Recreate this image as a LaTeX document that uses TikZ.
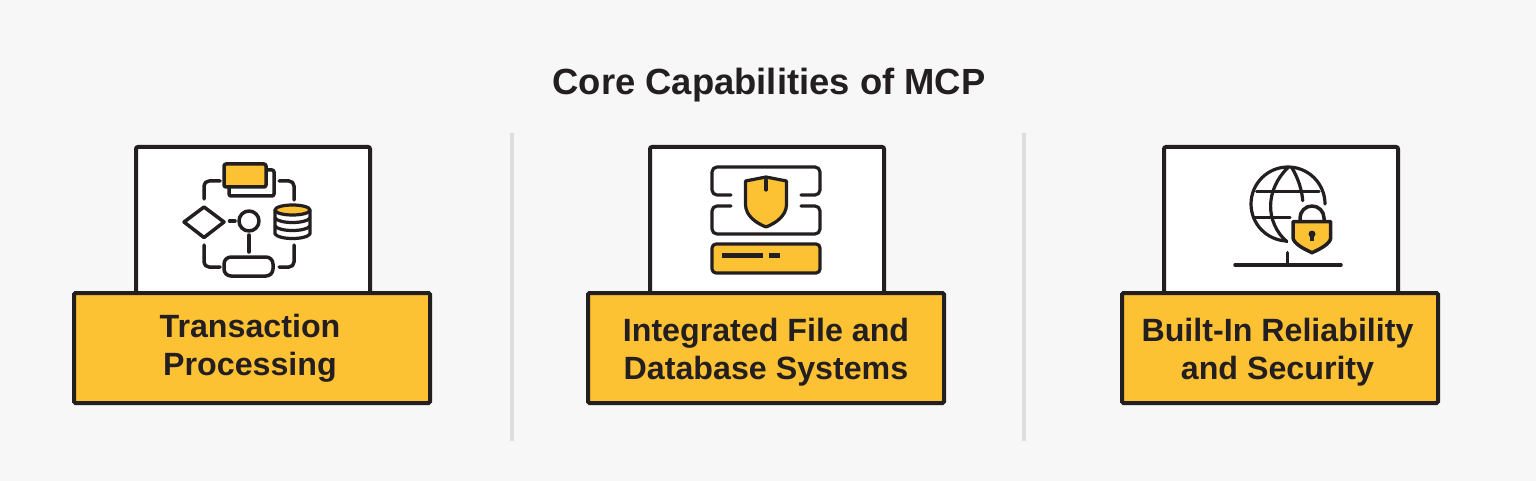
\documentclass[tikz,border=0pt]{standalone}
\usepackage{fontspec}
\setmainfont{Liberation Sans}
\definecolor{ink}{HTML}{231F20}
\definecolor{gold}{HTML}{FDC134}
\definecolor{paper}{HTML}{F7F7F7}
\definecolor{sep}{HTML}{DDDDDD}
\tikzset{
  frame/.style={draw=ink,line width=4pt,fill=white,rounded corners=2pt},
  boxshape/.style={draw=ink,line width=4pt,fill=gold,rounded corners=1.5pt,minimum height=110pt},
  labeltext/.style={inner sep=0pt,align=center,font=\fontsize{32.2}{38}\selectfont\bfseries,text=ink},
  ic/.style={draw=ink,line width=3.5pt,line cap=round,line join=round},
  thin ic/.style={draw=ink,line width=3.2pt,line cap=round,line join=round},
  sepline/.style={draw=sep,line width=4pt},
}
\begin{document}
\begin{tikzpicture}[x=1pt,y=-1pt]
\fill[paper] (0,0) rectangle (1536,481);
\useasboundingbox (0,0) rectangle (1536,481);
\node[font=\fontsize{36.4}{40}\selectfont\bfseries,text=ink,inner sep=0pt] (title) at (769,85) {Core Capabilities of MCP};
% separators
\coordinate (s1a) at (512,133); \coordinate (s1b) at (512,441);
\coordinate (s2a) at (1024,133); \coordinate (s2b) at (1024,441);
\draw[sepline] (s1a) -- (s1b);
\draw[sepline] (s2a) -- (s2b);
% frames
\draw[frame] (136,296) |- (370,147) -- (370,296);
\draw[frame] (650,296) |- (884,147) -- (884,296);
\draw[frame] (1164,296) |- (1398,147) -- (1398,296);
% label boxes
\node[boxshape,minimum width=356pt] (b1) at (252,348) {};
\node[boxshape,minimum width=356pt] (b2) at (766,348) {};
\node[boxshape,minimum width=316pt] (b3) at (1280,348) {};
\node[labeltext] (t1) at (250,348) {Transaction\\Processing};
\node[labeltext] (t2) at (766,352) {Integrated File and\\Database Systems};
\node[labeltext] (t3) at (1277.5,352) {Built-In Reliability\\and Security};
% icon 1
\draw[ic,fill=white,rounded corners=2pt] (229,170) rectangle (274,196);
\draw[ic,fill=gold,rounded corners=2pt] (224,164) rectangle (266,187);
\draw[ic,rounded corners=5pt] (220,181) -- (204,181) -- (204,199);
\draw[ic,rounded corners=5pt] (279,181) -- (294,181) -- (294,200);
\draw[ic,rounded corners=5pt] (204,245) -- (204,267) -- (220,267);
\draw[ic,rounded corners=5pt] (294,245) -- (294,267) -- (279,267);
\draw[ic] (184,222) -- (204,207) -- (224,222) -- (204,237.5) -- cycle;
\draw[ic] (229.5,221) -- (235,221);
\draw[ic] (249,221) circle (10pt);
\draw[ic] (249,235) -- (249,252);
\draw[ic,rounded corners=7pt] (224,257) rectangle (273,276);
\draw[thin ic,fill=white] (275,210) -- (275,234) .. controls (279,240) and (306,240) .. (310,234) -- (310,210);
\draw[thin ic,fill=gold] (292.5,210) ellipse (17.5pt and 5pt);
\draw[thin ic] (275,218) .. controls (279,224) and (306,224) .. (310,218);
\draw[thin ic] (275,226) .. controls (279,232) and (306,232) .. (310,226);
% icon 2
\draw[thin ic,rounded corners=5pt] (731,195) -- (712,195) -- (712,167) -- (820,167) -- (820,195) -- (801,195);
\draw[thin ic,rounded corners=5pt] (731,206) -- (712,206) -- (712,234) -- (820,234) -- (820,206) -- (801,206);
\draw[thin ic,fill=gold] (766,177) -- (745.5,181) -- (745.5,205) .. controls (746,216) and (756,223) .. (766,227) .. controls (776,223) and (786,216) .. (786.5,205) -- (786.5,181) -- cycle;
\draw[thin ic] (766,180) -- (766,190);
\draw[thin ic,fill=gold,rounded corners=4pt] (712,244) rectangle (820,273);
\draw[ink,line width=5pt] (722,255.7) -- (763,255.7);
\draw[ink,line width=5pt] (769,255.7) -- (780,255.7);
% icon 3
\draw[thin ic] (1325,204) arc[start angle=0,end angle=268,radius=37pt];
\draw[thin ic] (1288,167.5) .. controls (1265,190) and (1265,222) .. (1286.7,241.7);
\draw[thin ic] (1292,168) .. controls (1298,178) and (1302,190) .. (1302.7,200.7);
\draw[thin ic] (1256.7,191.7) -- (1319,191.7);
\draw[thin ic] (1254,217.7) -- (1290,217.7);
\draw[ic] (1300,222) -- (1300,218) arc[start angle=180,end angle=0,radius=12pt] -- (1324,222);
\draw[ic,fill=gold] (1293,221.7) -- (1330.7,221.7) -- (1330.7,238) .. controls (1330,244) and (1320,249) .. (1312,252.7) .. controls (1304,249) and (1294,244) .. (1293,238) -- cycle;
\fill[ink] (1312,234) circle (3.5pt);
\draw[ink,line width=4pt] (1312,235) -- (1312,241);
\draw[ic] (1287.7,252.7) -- (1287.7,265);
\draw[ic] (1235,265) -- (1341,265);
\end{tikzpicture}
\end{document}
